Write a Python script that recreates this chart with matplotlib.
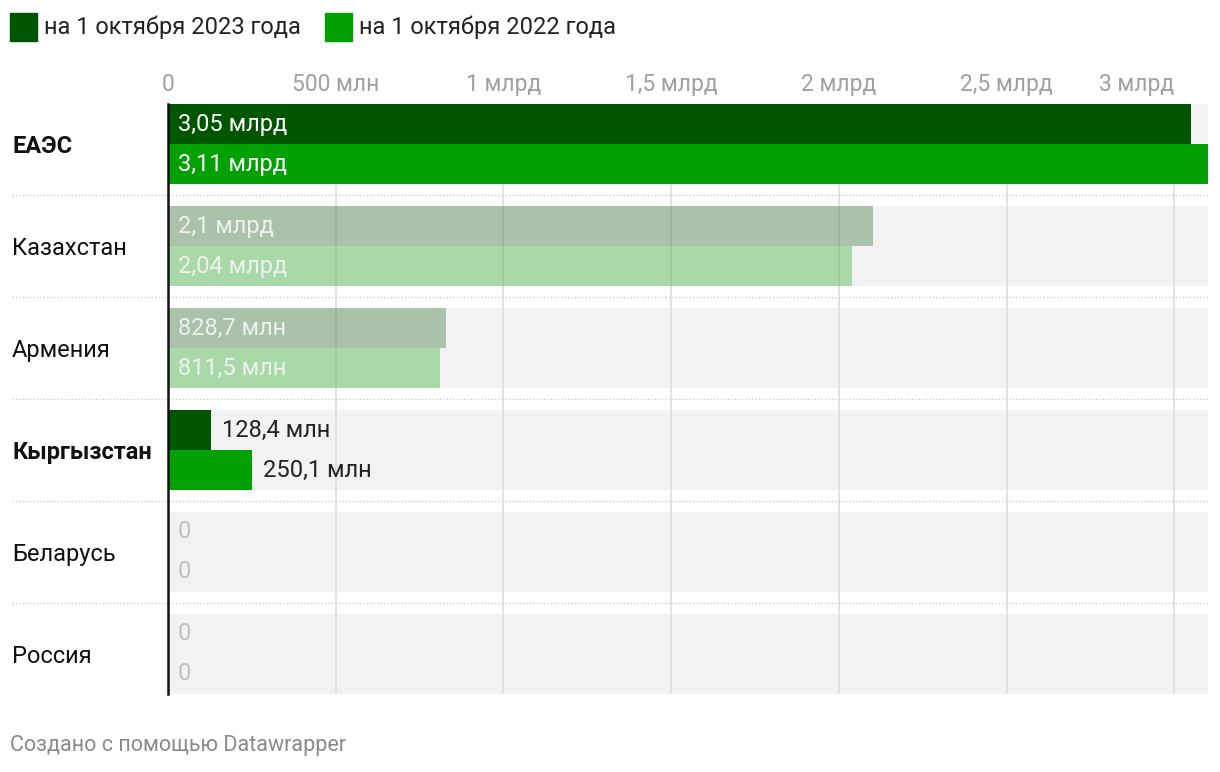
import matplotlib
matplotlib.use('Agg')
import matplotlib.pyplot as plt
import matplotlib.transforms as mtransforms
from matplotlib.patches import Rectangle
import numpy as np

plt.rcParams['font.family'] = ['Roboto', 'DejaVu Sans']

countries = ['ЕАЭС', 'Казахстан', 'Армения', 'Кыргызстан', 'Беларусь', 'Россия']
values_2023 = [3.05, 2.1, 0.8287, 0.1284, 0, 0]      # млрд
values_2022 = [3.11, 2.04, 0.8115, 0.2501, 0, 0]     # млрд
highlighted = ['ЕАЭС', 'Кыргызстан']
series_names = ['на 1 октября 2023 года', 'на 1 октября 2022 года']
ticks = [0, 0.5, 1, 1.5, 2, 2.5, 3]
tick_labels = ['0', '500 млн', '1 млрд', '1,5 млрд', '2 млрд', '2,5 млрд', '3 млрд']

DARK = '#005500'
LIGHT = '#02a102'
BAND = '#f2f2f2'
FS = 17


def fmt(v):
    if v >= 1:
        return f"{v:g} млрд".replace('.', ',')
    if v > 0:
        return f"{v * 1000:.1f} млн".replace('.', ',')
    return '0'


W, H = 1220, 772
fig = plt.figure(figsize=(W / 100, H / 100), dpi=100)
ax = fig.add_axes([168 / W, 1 - 694 / H, (1208 - 168) / W, (694 - 104) / H])

n = len(countries)
h = 40 / 102
xmax = 3.10
y = np.arange(n)

# grey background bands
ax.barh(y, [xmax] * n, height=2 * h, left=0, color=BAND, zorder=0)

for i, name in enumerate(countries):
    hi = name in highlighted
    alpha = 1 if hi else 0.3
    for j, (vals, col) in enumerate([(values_2023, DARK), (values_2022, LIGHT)]):
        yy = i - h / 2 + j * h
        v = vals[i]
        ax.barh(yy, v, height=h, color=col, alpha=alpha, zorder=2, linewidth=0)
        label = fmt(v)
        if v == 0:
            ax.annotate(label, (0, yy), xytext=(7, 0), textcoords='offset points',
                        va='center', ha='left', fontsize=FS, color='#c0c0c0', zorder=4)
        elif v > 0.5:
            ax.annotate(label, (0, yy), xytext=(7, 0), textcoords='offset points',
                        va='center', ha='left', fontsize=FS,
                        color='white' if hi else '#eef2ee', zorder=4)
        else:
            ax.annotate(label, (v, yy), xytext=(8, 0), textcoords='offset points',
                        va='center', ha='left', fontsize=FS, color='#222222', zorder=4)

    ax.text(12 / W, i + 0.02, name, transform=mtransforms.blended_transform_factory(fig.transFigure, ax.transData),
            va='center', ha='left', fontsize=FS, color='#111111',
            fontweight='bold' if hi else 'normal')

# dotted separators between groups
sep_tr = mtransforms.blended_transform_factory(fig.transFigure, ax.transData)
for i in range(n - 1):
    ax.plot([12 / W, 1208 / W], [i + 0.5, i + 0.5], transform=sep_tr, clip_on=False,
            color='#cccccc', linestyle=(0, (1, 1.5)), linewidth=1, zorder=1)

ax.set_xlim(0, xmax)
ax.set_ylim(n - 1 + h, -h)
ax.set_xticks(ticks)
ax.set_xticklabels(tick_labels)
ax.xaxis.tick_top()
ax.tick_params(axis='x', length=0, pad=6, labelsize=16.5, labelcolor='#a0a0a0')
ax.get_xticklabels()[-1].set_horizontalalignment('right')
ax.set_yticks([])
ax.set_axisbelow(True)
ax.grid(axis='x', color='#dddddd', linewidth=1.2)
for s in ['top', 'right', 'bottom']:
    ax.spines[s].set_visible(False)
ax.spines['left'].set_color('#111111')
ax.spines['left'].set_linewidth(1.8)
ax.spines['left'].set_zorder(5)
ax.patch.set_visible(False)

# legend
for k, (name, col) in enumerate(zip(series_names, [DARK, LIGHT])):
    x0 = [10, 325][k]
    fig.patches.append(Rectangle((x0 / W, 1 - 41 / H), 27 / W, 28 / H,
                                 transform=fig.transFigure, color=col))
    fig.text((x0 + 34) / W, 1 - 27 / H, name, fontsize=FS, color='#222222', va='center', ha='left')

fig.text(10 / W, 1 - 746 / H, 'Создано с помощью Datawrapper', fontsize=15.5,
         color='#8a8a8a', va='center', ha='left')

fig.savefig('out.png', dpi=100, facecolor='white')
